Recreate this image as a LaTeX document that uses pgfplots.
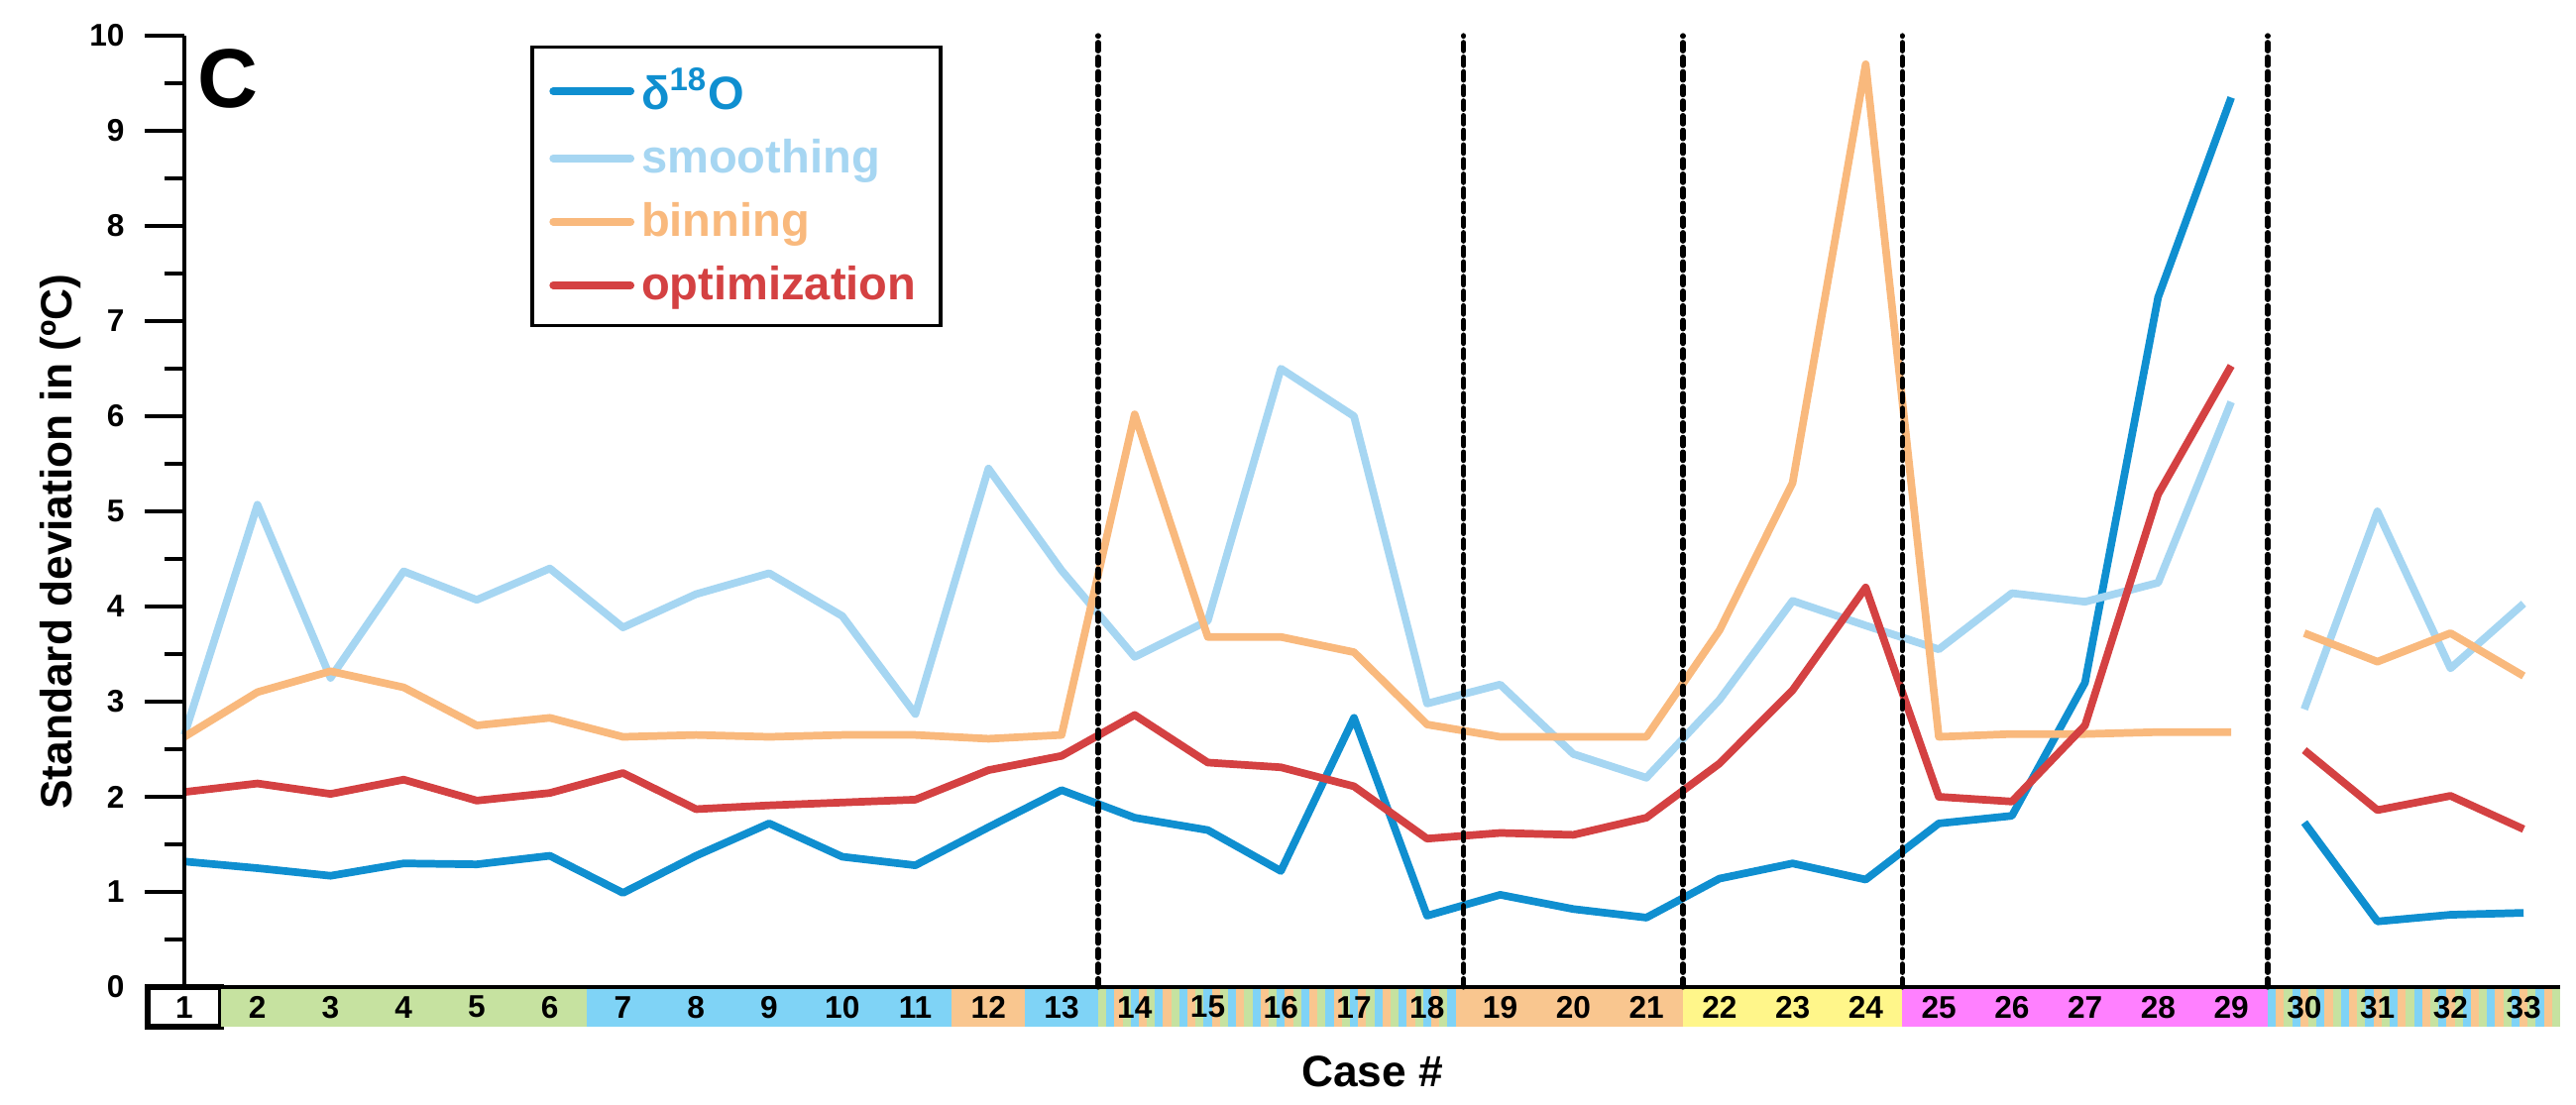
\documentclass[border=0pt]{standalone}
\usepackage{pgfplots}
\pgfplotsset{compat=1.18}
\usepackage{pgfplotstable}
\usepackage{fontspec}
\setmainfont{Liberation Sans}

\definecolor{cdo}{HTML}{0F8FD0}
\definecolor{csm}{HTML}{A6D6F2}
\definecolor{cbin}{HTML}{F9B97D}
\definecolor{copt}{HTML}{D44142}
\definecolor{bgreen}{HTML}{C6E2A0}
\definecolor{bblue}{HTML}{7FD3F6}
\definecolor{borange}{HTML}{F9C68F}
\definecolor{byellow}{HTML}{FFF68A}
\definecolor{bmag}{HTML}{FF80FF}

% case, d18O, smoothing, binning, optimization
\pgfplotstableread{
case d18O smooth binning optim
1  1.32 2.65 2.63 2.05
2  1.25 5.07 3.10 2.14
3  1.17 3.25 3.32 2.03
4  1.30 4.37 3.15 2.18
5  1.29 4.07 2.75 1.96
6  1.38 4.40 2.83 2.04
7  0.99 3.78 2.63 2.25
8  1.38 4.13 2.65 1.87
9  1.72 4.35 2.63 1.91
10 1.37 3.90 2.65 1.94
11 1.28 2.87 2.65 1.97
12 1.68 5.45 2.61 2.28
13 2.07 4.38 2.65 2.43
14 1.78 3.47 6.02 2.86
15 1.65 3.85 3.68 2.36
16 1.22 6.50 3.68 2.31
17 2.83 6.00 3.52 2.11
18 0.75 2.98 2.76 1.56
19 0.97 3.18 2.63 1.62
20 0.82 2.45 2.63 1.60
21 0.73 2.20 2.63 1.78
22 1.14 3.02 3.75 2.35
23 1.30 4.06 5.30 3.12
24 1.13 3.80 9.70 4.20
25 1.72 3.55 2.63 2.00
26 1.80 4.14 2.66 1.95
27 3.20 4.05 2.66 2.75
28 7.25 4.25 2.68 5.18
29 9.35 6.15 2.68 6.53
29.5 nan nan nan nan
30 1.73 2.92 3.72 2.49
31 0.69 5.00 3.42 1.86
32 0.76 3.35 3.72 2.01
33 0.78 4.03 3.27 1.66
}\sddata

\begin{document}
\begin{tikzpicture}
\begin{axis}[
  scale only axis,
  width=23.97cm, height=9.6cm,
  xmin=1, xmax=33.5, ymin=0, ymax=10,
  clip=false, axis on top,
  axis lines=left,
  axis line style={-, line width=1.15pt},
  every tick/.style={black, line width=1.15pt},
  xtick=\empty,
  ytick={0,1,...,10},
  minor y tick num=1,
  tick align=outside,
  major tick length=4mm, minor tick length=2mm,
  tick label style={font=\fontsize{9}{10}\selectfont\bfseries},
  /pgf/number format/assume math mode=true,
  yticklabel style={xshift=-0.8mm},
  ylabel={Standard deviation in (ºC)},
  ylabel style={at={(axis description cs:-0.052,0.468)}, anchor=center,
    font=\fontsize{12.6}{14}\selectfont\bfseries},
  xlabel={Case \#},
  xlabel style={at={(axis description cs:0.5,-0.0885)}, anchor=center,
    font=\fontsize{12.6}{14}\selectfont\bfseries},
  unbounded coords=jump,
  every axis plot/.append style={line width=2.2pt, line join=round},
  legend style={at={(rel axis cs:0.1456,0.9896)}, anchor=north west,
    draw=black, line width=1pt, fill=white,
    font=\fontsize{13.4}{16}\selectfont\bfseries,
    inner xsep=5pt, inner ysep=4pt, row sep=3pt,
    cells={anchor=west}},
  legend image code/.code={\draw[#1, line cap=round] (0cm,0cm) -- (0.78cm,0cm);},
]
% category strip under the axis
\draw[line width=1.7pt, fill=white] (0.5,0) rectangle (1.5,-0.42);
\fill[bgreen] (1.5,0) rectangle (6.5,-0.42);
\fill[bblue] (6.5,0) rectangle (11.5,-0.42);
\fill[borange] (11.5,0) rectangle (12.5,-0.42);
\fill[bblue] (12.5,0) rectangle (13.5,-0.42);
\pgfplotsinvokeforeach{0,3,...,42}{
  \fill[bgreen] ({13.5+#1/9},0) rectangle ({13.5+(#1+1)/9},-0.42);
  \fill[bblue] ({13.5+(#1+1)/9},0) rectangle ({13.5+(#1+2)/9},-0.42);
  \fill[borange] ({13.5+(#1+2)/9},0) rectangle ({13.5+(#1+3)/9},-0.42);
}
\fill[borange] (18.5,0) rectangle (21.5,-0.42);
\fill[byellow] (21.5,0) rectangle (24.5,-0.42);
\fill[bmag] (24.5,0) rectangle (29.5,-0.42);
\pgfplotsinvokeforeach{0,3,...,33}{
  \fill[bblue] ({29.5+#1/9},0) rectangle ({29.5+(#1+1)/9},-0.42);
  \fill[borange] ({29.5+(#1+1)/9},0) rectangle ({29.5+(#1+2)/9},-0.42);
  \fill[bgreen] ({29.5+(#1+2)/9},0) rectangle ({29.5+(#1+3)/9},-0.42);
}
\pgfplotsinvokeforeach{1,...,33}{
  \node[font=\fontsize{9}{10}\selectfont\bfseries] at (#1,-0.21) {#1};
}

\addplot[cdo] table[x=case, y=d18O] {\sddata};
\addlegendentry{\textcolor{cdo}{δ\textsuperscript{18}O}}
\addplot[csm] table[x=case, y=smooth] {\sddata};
\addlegendentry{\textcolor{csm}{smoothing}}
\addplot[cbin] table[x=case, y=binning] {\sddata};
\addlegendentry{\textcolor{cbin}{binning}}
\addplot[copt] table[x=case, y=optim] {\sddata};
\addlegendentry{\textcolor{copt}{optimization}}

% group separators
\pgfplotsset{sep/.style={black, line width=1.5pt, line cap=round, dash pattern=on 2.4pt off 1.8pt, forget plot}}
\addplot[sep] coordinates {(13.5,0) (13.5,10)};
\addplot[sep] coordinates {(18.5,0) (18.5,10)};
\addplot[sep] coordinates {(21.5,0) (21.5,10)};
\addplot[sep] coordinates {(24.5,0) (24.5,10)};
\addplot[sep] coordinates {(29.5,0) (29.5,10)};

\node[font=\fontsize{24}{24}\selectfont\bfseries] at (1.6,9.55) {C};
\end{axis}
\path ([shift={(-1.86cm,-1.18cm)}]current axis.south west)
  rectangle ([shift={(0.16cm,0.36cm)}]current axis.north east);
\end{tikzpicture}
\end{document}
